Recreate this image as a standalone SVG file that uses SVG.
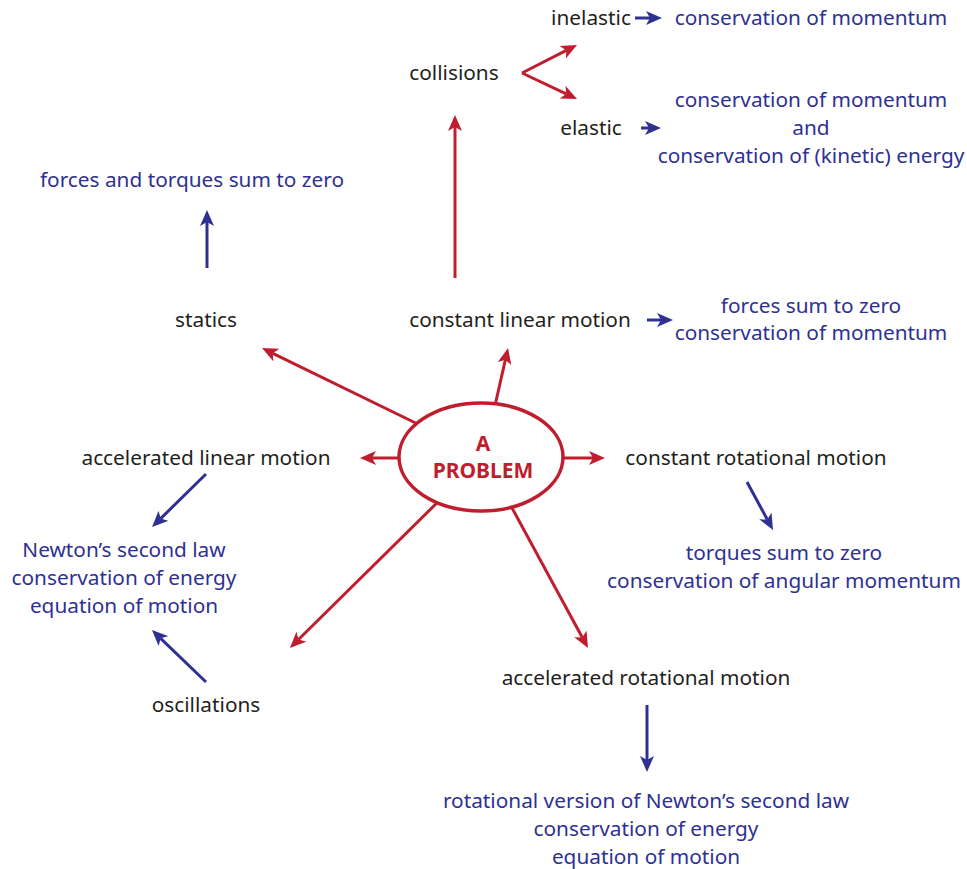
<svg xmlns="http://www.w3.org/2000/svg" width="967" height="869" viewBox="0 0 967 869">
<style>
text{font-family:"Noto Sans","Open Sans","Liberation Sans",sans-serif;font-size:20.8px;text-anchor:middle;dominant-baseline:central}
.k{fill:#231f20}
.b{fill:#2e3192}
.r{fill:#be1e2d;font-weight:bold;font-size:21px}
.lr{stroke:#be1e2d;stroke-width:3;fill:none;marker-end:url(#hr)}
.lb{stroke:#2e3192;stroke-width:3;fill:none;marker-end:url(#hb)}
</style>
<defs>
<marker id="hr" viewBox="0 0 16 14" refX="4" refY="7" markerWidth="16" markerHeight="14" markerUnits="userSpaceOnUse" orient="auto"><path d="M0,0 L16,7 L0,14 L4,7 Z" fill="#be1e2d"/></marker>
<marker id="hb" viewBox="0 0 16 14" refX="4" refY="7" markerWidth="16" markerHeight="14" markerUnits="userSpaceOnUse" orient="auto"><path d="M0,0 L16,7 L0,14 L4,7 Z" fill="#2e3192"/></marker>
</defs>
<g id="connectors">
<line class="lb" x1="635" y1="18" x2="650" y2="18"/>
<line class="lb" x1="641" y1="128" x2="649" y2="128"/>
<line class="lr" x1="522" y1="73" x2="566.3" y2="50.4"/>
<line class="lr" x1="522" y1="73" x2="566.2" y2="93.9"/>
<line class="lr" x1="455" y1="278" x2="455" y2="127"/>
<line class="lb" x1="207" y1="268" x2="207" y2="222"/>
<line class="lb" x1="647" y1="320" x2="661" y2="320"/>
<line class="lr" x1="430" y1="430" x2="272.8" y2="353.3"/>
<line class="lr" x1="494" y1="410" x2="505.4" y2="359.7"/>
<line class="lr" x1="420" y1="458" x2="372" y2="458"/>
<line class="lr" x1="540" y1="458" x2="593" y2="458"/>
<line class="lb" x1="206" y1="474" x2="160.6" y2="518.6"/>
<line class="lb" x1="747" y1="482" x2="767.3" y2="519.5"/>
<line class="lr" x1="450" y1="490" x2="298.5" y2="639.5"/>
<line class="lr" x1="505" y1="495" x2="582.3" y2="637.5"/>
<line class="lb" x1="647" y1="705" x2="647" y2="760"/>
<line class="lb" x1="206" y1="682" x2="160.6" y2="638.3"/>
</g>
<g id="problem">
<ellipse cx="481" cy="457" rx="82" ry="54" fill="#fff" stroke="#be1e2d" stroke-width="3.5"/>
<text class="r" x="483" y="443">A</text>
<text class="r" x="483" y="470">PROBLEM</text>
</g>
<g id="collisions"><text class="k" x="454" y="72">collisions</text></g>
<g id="inelastic"><text class="k" x="591" y="17">inelastic</text></g>
<g id="inelastic-result"><text class="b" x="811" y="17">conservation of momentum</text></g>
<g id="elastic"><text class="k" x="591" y="127">elastic</text></g>
<g id="elastic-result">
<text class="b" x="811" y="99">conservation of momentum</text>
<text class="b" x="811" y="127">and</text>
<text class="b" x="811" y="155">conservation of (kinetic) energy</text>
</g>
<g id="statics-result"><text class="b" x="192" y="179">forces and torques sum to zero</text></g>
<g id="statics"><text class="k" x="206" y="319">statics</text></g>
<g id="constant-linear"><text class="k" x="520" y="319">constant linear motion</text></g>
<g id="constant-linear-result">
<text class="b" x="811" y="305">forces sum to zero</text>
<text class="b" x="811" y="332">conservation of momentum</text>
</g>
<g id="accelerated-linear"><text class="k" x="206" y="457">accelerated linear motion</text></g>
<g id="constant-rotational"><text class="k" x="756" y="457">constant rotational motion</text></g>
<g id="newton">
<text class="b" x="124" y="549">Newton’s second law</text>
<text class="b" x="124" y="577">conservation of energy</text>
<text class="b" x="124" y="605">equation of motion</text>
</g>
<g id="constant-rotational-result">
<text class="b" x="784" y="552">torques sum to zero</text>
<text class="b" x="784" y="580">conservation of angular momentum</text>
</g>
<g id="accelerated-rotational"><text class="k" x="646" y="677">accelerated rotational motion</text></g>
<g id="oscillations"><text class="k" x="206" y="704">oscillations</text></g>
<g id="accelerated-rotational-result">
<text class="b" x="646" y="800">rotational version of Newton’s second law</text>
<text class="b" x="646" y="828">conservation of energy</text>
<text class="b" x="646" y="856">equation of motion</text>
</g>
</svg>
